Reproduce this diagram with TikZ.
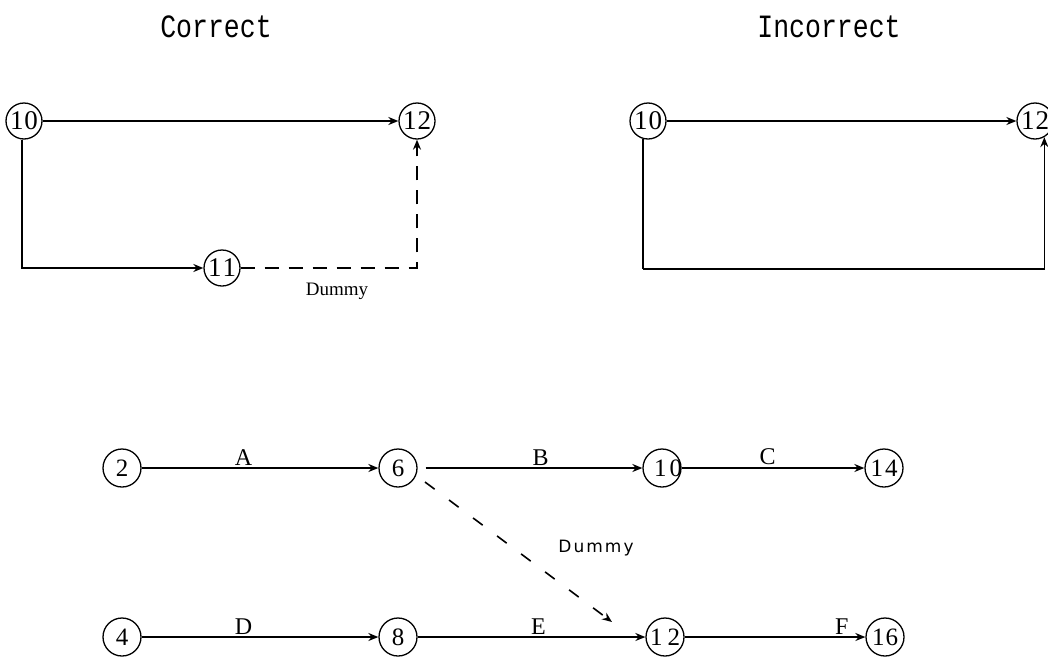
\documentclass[tikz,border=0pt]{standalone}
\usepackage{fontspec}
\setmainfont{Liberation Serif}
\newfontfamily\monofont{Liberation Mono}
\newfontfamily\dumfont[LetterSpace=12]{DejaVu Sans}
\usetikzlibrary{arrows.meta,calc}

\tikzset{
  evt/.style={circle,draw,line width=1.3pt,minimum size=36pt,inner sep=0pt,
              font=\fontsize{27}{27}\selectfont},
  bevt/.style={evt,minimum size=38pt,font=\fontsize{25}{25}\selectfont},
  act/.style={line width=1.6pt,-{Stealth[length=10pt,width=8pt]}},
  plain/.style={line width=1.6pt},
  dum/.style={act,dash pattern=on 14pt off 10pt},
  ddum/.style={act,dash pattern=on 12pt off 18pt},
  lbl/.style={font=\fontsize{24}{24}\selectfont,anchor=south,inner sep=2pt},
  title/.style={font=\monofont\fontsize{26}{26}\selectfont}
}

\begin{document}
\begin{tikzpicture}[x=1pt,y=-1pt]
\useasboundingbox (0,0) rectangle (1048,664);

% headings
\node[title] (tc) at (216,27) {\scalebox{1.02}[1.25]{Correct}};
\node[title] (ti) at (829,27) {\scalebox{1.02}[1.25]{Incorrect}};

% --- correct network with a dummy activity
\node[evt] (c10) at (24,121) {1\kern1pt0};
\node[evt] (c12) at (417,121) {1\kern1pt2};
\node[evt] (c11) at (222,268) {1\kern1pt1};
\draw[act] (c10) -- (c12);
\draw[act] (c10.263) |- (c11.west);
\draw[dum] (c11.east) -| (c12.south);
\node[font=\fontsize{19}{19}\selectfont] (cd) at (337,291) {Dummy};

% --- incorrect network: two activities share both events
\node[evt] (i10) at (648,121) {1\kern1pt0};
\node[evt] (i12) at (1035,121) {1\kern1pt2};
\draw[act] (i10) -- (i12);
\coordinate (iL) at ($(i10.255)+(0,130)$);
\draw[plain] (i10.255) -- (iL);
\draw[act] (iL) -| (i12.300);

% --- larger network
\node[bevt] (b2) at (122,468) {2};
\node[bevt] (b6) at (398,468) {6};
\node[bevt] (b10) at (662,468) {};
\node[font=\fontsize{25}{25}\selectfont] (b10t) at (668,468) {1\kern3pt0};
\node[bevt] (b14) at (884,468) {1\kern2pt4};
\node[bevt] (b4) at (122,637) {4};
\node[bevt] (b8) at (398,637) {8};
\node[bevt] (b12) at (665,637) {1\kern5pt2};
\node[bevt] (b16) at (885,637) {1\kern1pt6};

\draw[act] (b2) -- node[lbl,pos=0.43] {A} (b6);
\draw[act] ($(b6.east)+(8,0)$) -- node[lbl,pos=0.53] {B} (b10);
\draw[act] (b10) -- node[lbl,pos=0.47] {C} (b14);
\draw[act] (b4) -- node[lbl,pos=0.43] {D} (b8);
\draw[act] (b8) -- node[lbl,pos=0.53] {E} (b12);
\draw[act] (b12) -- node[lbl,pos=0.87] {F} (b16);

\coordinate (dS) at ($(b6)+(27,14)$);
\coordinate (dE) at ($(b12)+(-53,-15)$);
\draw[ddum] (dS) -- (dE);
\node[font=\dumfont\fontsize{17}{17}\selectfont] (bd) at (596,548) {Dummy};
\end{tikzpicture}
\end{document}
